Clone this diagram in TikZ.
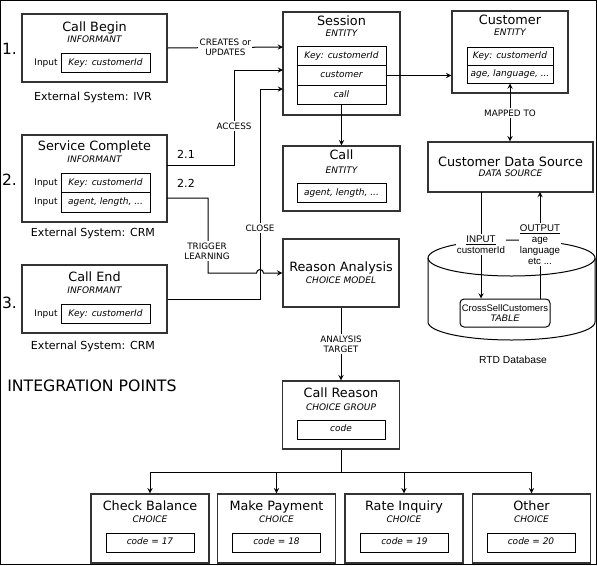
\documentclass[tikz,border=0pt]{standalone}
\usepackage{fontspec}
\setmainfont{DejaVu Sans}
\newfontfamily\arialfont{Liberation Sans}

\begin{document}
\begin{tikzpicture}[x=0.75pt,y=-0.75pt,>=stealth,
    outerbox/.style={draw=black!80,line width=1.1pt,inner sep=0pt},
    rowbox/.style={draw,line width=0.75pt,minimum width=66.75pt,minimum height=14.6pt,inner sep=0pt,
      text height=5.2pt,text depth=1.6pt,font=\fontsize{6.75}{8}\selectfont\itshape},
    titletext/.style={anchor=base,inner sep=0pt,font=\fontsize{9.6}{11}\selectfont},
    typetext/.style={anchor=base,inner sep=0pt,font=\fontsize{6.75}{8}\selectfont\itshape},
    inputtext/.style={inner sep=0pt,font=\fontsize{6.75}{8}\selectfont},
    systext/.style={inner sep=0pt,font=\fontsize{8.3}{10}\selectfont},
    numtext/.style={inner sep=0pt,font=\fontsize{11.6}{14}\selectfont},
    lbl/.style={fill=white,inner sep=1pt,align=center,font=\fontsize{6.6}{7.5}\selectfont},
    dblbl/.style={fill=white,inner sep=1pt,align=center,font=\arialfont\fontsize{7.3}{8.25}\selectfont},
    link/.style={line width=0.75pt}]

  \useasboundingbox (0,0) rectangle (597,565);
  \draw[line width=1pt] (0.6,0.6) rectangle (596.4,564.4);

  % informants
  \node[outerbox,minimum width=108.75pt,minimum height=51pt] (callbegin) at (94.5,48) {};
  \node[titletext] (cbtitle) at (94.5,31) {Call Begin};
  \node[typetext] (cbtype) at (94.5,42.3) {INFORMANT};
  \node[rowbox] (cbkey) at (105.5,63) {Key: customerId};
  \node[inputtext] (cbinput) at (46,63) {Input};
  \node[numtext] (num1) at (9.5,49) {1.};
  \node[systext] (cbsys) at (93,97) {External System: IVR};

  \node[outerbox,minimum width=108.75pt,minimum height=65.25pt] (servcomp) at (94.5,178.5) {};
  \node[titletext] (sctitle) at (94.5,150.7) {Service Complete};
  \node[typetext] (sctype) at (94.5,162.3) {INFORMANT};
  \node[rowbox] (sckey) at (105.5,183) {Key: customerId};
  \node[rowbox] (scattr) at (105.5,202.5) {agent, length, ...};
  \node[inputtext] (scinput1) at (46,183) {Input};
  \node[inputtext] (scinput2) at (46,202.5) {Input};
  \node[numtext] (num2) at (9.5,180) {2.};
  \node[systext] (scsys) at (93,233) {External System: CRM};

  \node[outerbox,minimum width=108.75pt,minimum height=51pt] (callend) at (94.5,299) {};
  \node[titletext] (cetitle) at (94.5,281.7) {Call End};
  \node[typetext] (cetype) at (94.5,293.3) {INFORMANT};
  \node[rowbox] (cekey) at (105.5,314) {Key: customerId};
  \node[inputtext] (ceinput) at (46,314) {Input};
  \node[numtext] (num3) at (9.5,303) {3.};
  \node[systext] (cesys) at (93,346) {External System: CRM};

  \node[anchor=west,inner sep=0pt,font=\fontsize{11.8}{14}\selectfont] (intpoints) at (7,386) {INTEGRATION POINTS};

  % entities
  \node[outerbox,minimum width=87.75pt,minimum height=77.25pt] (session) at (341.5,63.5) {};
  \node[titletext] (stitle) at (341.5,25.7) {Session};
  \node[typetext] (stype) at (341.5,36.3) {ENTITY};
  \node[rowbox] (skey) at (341.5,56) {Key: customerId};
  \node[rowbox] (scust) at (341.5,75.5) {customer};
  \node[rowbox] (scall) at (341.5,95) {call};

  \node[outerbox,minimum width=87.75pt,minimum height=48.75pt] (call) at (341.5,178.5) {};
  \node[titletext] (ctitle) at (341.5,159.7) {Call};
  \node[typetext] (ctype) at (341.5,173.3) {ENTITY};
  \node[rowbox] (cattr) at (341.5,193) {agent, length, ...};

  \node[outerbox,minimum width=87pt,minimum height=61.5pt] (customer) at (510,52) {};
  \node[titletext] (custtitle) at (510,24.7) {Customer};
  \node[typetext] (custtype) at (510,35.3) {ENTITY};
  \node[rowbox,minimum width=64.5pt,minimum height=13.5pt] (custkey) at (510,56) {Key: customerId};
  \node[rowbox,minimum width=64.5pt,minimum height=13.5pt] (custattr) at (510,74) {age, language, ...};

  \node[outerbox,minimum width=123.75pt,minimum height=37.5pt] (datasrc) at (510.5,167) {};
  \node[titletext] (dstitle) at (510.5,166.7) {Customer Data Source};
  \node[typetext] (dstype) at (510.5,176.3) {DATA SOURCE};

  % database
  \draw[link] (428,258) -- (428,322) arc[start angle=180,end angle=0,x radius=83.5,y radius=18] -- (595,258);
  \draw[link] (511.5,258) ellipse [x radius=83.5,y radius=18];
  \node[draw,link,rounded corners=3pt,minimum width=67.5pt,minimum height=21pt,inner sep=0pt,align=center,
    font=\arialfont\fontsize{7.1}{7.5}\selectfont] (table) at (505,313) {CrossSellCustomers\\\textit{TABLE}};
  \node[inner sep=0pt,font=\arialfont\fontsize{7.7}{9}\selectfont] (rtd) at (513,360) {RTD Database};

  % choice model
  \node[outerbox,minimum width=87pt,minimum height=51pt] (reason) at (341,273) {};
  \node[titletext] (ratitle) at (341,271.7) {Reason Analysis};
  \node[typetext] (ratype) at (341,283.3) {CHOICE MODEL};

  \node[outerbox,minimum width=87.75pt,minimum height=51pt] (callreason) at (341,415) {};
  \node[titletext] (crtitle) at (341,397.7) {Call Reason};
  \node[typetext] (crtype) at (341,410.3) {CHOICE GROUP};
  \node[rowbox,minimum width=66pt,minimum height=14.25pt] (crcode) at (341,429.5) {code};

  \node[outerbox,minimum width=88.5pt,minimum height=51.75pt] (checkbal) at (150,528.5) {};
  \node[titletext] (cbaltitle) at (150,510.7) {Check Balance};
  \node[typetext] (cbaltype) at (150,522.3) {CHOICE};
  \node[rowbox,minimum width=66pt,minimum height=14.25pt] (cbalcode) at (150,542.5) {code = 17};

  \node[outerbox,minimum width=88.5pt,minimum height=51.75pt] (makepay) at (276.5,528.5) {};
  \node[titletext] (mptitle) at (276.5,510.7) {Make Payment};
  \node[typetext] (mptype) at (276.5,522.3) {CHOICE};
  \node[rowbox,minimum width=66pt,minimum height=14.25pt] (mpcode) at (276.5,542.5) {code = 18};

  \node[outerbox,minimum width=88.5pt,minimum height=51.75pt] (rateinq) at (404,528.5) {};
  \node[titletext] (rititle) at (404,510.7) {Rate Inquiry};
  \node[typetext] (ritype) at (404,522.3) {CHOICE};
  \node[rowbox,minimum width=66pt,minimum height=14.25pt] (ricode) at (404.5,542.5) {code = 19};

  \node[outerbox,minimum width=88.5pt,minimum height=51.75pt] (other) at (531.5,528.5) {};
  \node[titletext] (ottitle) at (531.5,510.7) {Other};
  \node[typetext] (ottype) at (531.5,522.3) {CHOICE};
  \node[rowbox,minimum width=66pt,minimum height=14.25pt] (otcode) at (531,542.5) {code = 20};

  % connectors
  \coordinate (sin1) at (283,47);
  \coordinate (sin2) at (283,70);
  \coordinate (sin3) at (283,89);
  \coordinate (sc21) at (167,165);
  \coordinate (sc22) at (167,198);
  \coordinate (dsin) at (481,192);
  \coordinate (dsout) at (540,192);
  \coordinate (fork) at (341,472);

  \draw[link,->] (callbegin.east) -- node[lbl] (creates) {CREATES or\\UPDATES} (sin1);
  \draw[link,->] (sc21) -- (234,165) |- (sin2);
  \draw[link,->] (callend.east) -- (260,299) |- (sin3);
  \draw[link,->] (sc22) -- (208,198) |- (256.5,273) arc[start angle=180,end angle=360,radius=3.5] -- (reason.west);
  \node[lbl] (access) at (234,126) {ACCESS};
  \node[lbl] (close) at (260,228) {CLOSE};
  \node[lbl] (trigger) at (207,251) {TRIGGER\\LEARNING};
  \node[systext] (lbl21) at (186,154) {2.1};
  \node[systext] (lbl22) at (186,183) {2.2};

  \draw[link,->] (scall.south) -- (call.north);
  \draw[link,->] (scust.east) -- (scust.east -| customer.west);
  \draw[link,<->] (custattr.south) -- (custattr.south |- datasrc.north);
  \node[lbl] (mapped) at (510,113) {MAPPED TO};

  \draw[link,->] (dsin) -- (dsin |- table.north);
  \draw[link,->] (dsout |- table.north) -- (dsout);
  \node[dblbl] (inputlbl) at (481,244.5) {\underline{INPUT}\\customerId};
  \node[dblbl] (outputlbl) at (540,244.5) {\underline{OUTPUT}\\age\\language\\etc ...};

  \draw[link,->] (reason.south) -- node[lbl] (target) {ANALYSIS\\TARGET} (callreason.north);
  \draw[link] (callreason.south) -- (fork);
  \draw[link,->] (fork) -| (checkbal.north);
  \draw[link,->] (fork) -| (makepay.north);
  \draw[link,->] (fork) -| (rateinq.north);
  \draw[link,->] (fork) -| (other.north);
\end{tikzpicture}
\end{document}
